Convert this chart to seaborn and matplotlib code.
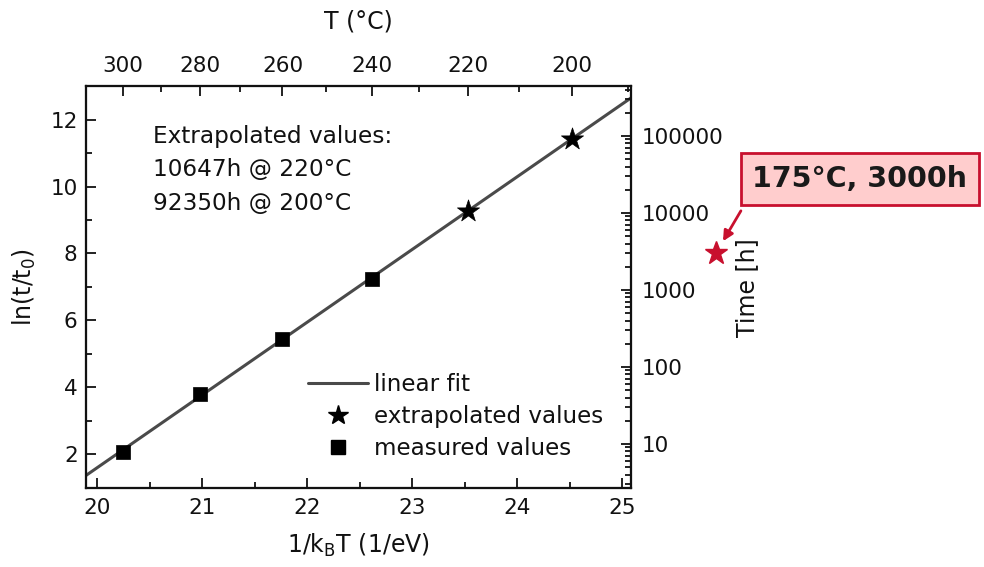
import numpy as np
import matplotlib
matplotlib.use("Agg")
import matplotlib.pyplot as plt
from matplotlib.ticker import FixedLocator, MultipleLocator, FuncFormatter, LogLocator, NullFormatter
from matplotlib.lines import Line2D
import seaborn as sns

# Boltzmann constant (eV/K)
KB = 8.617333e-5

# Measured lifetimes, ln(t / 1 h)
temps_measured = [300, 280, 260, 240]          # °C
ln_measured = [2.07, 3.79, 5.45, 7.24]

# Extrapolated lifetimes
temps_extrap = [220, 200]                      # °C
hours_extrap = [10647, 92350]                  # h

# Requirement point
temp_target = 175                              # °C
hours_target = 3000                            # h

# Top axis temperature ticks
top_major_T = [300, 280, 260, 240, 220, 200]
top_minor_T = [310, 290, 270, 250, 230, 210, 190]

# Right axis time ticks
time_ticks = [10, 100, 1000, 10000, 100000]


def inv_kt(t_c):
    return 1.0 / (KB * (np.asarray(t_c, dtype=float) + 273.15))


sns.set_theme(style="ticks")
plt.rcParams["font.family"] = ["DejaVu Sans"]
plt.rcParams["mathtext.default"] = "regular"
plt.rcParams["text.color"] = "#111111"
plt.rcParams["axes.labelcolor"] = "#111111"

FS = 15.5
LFS = 17
RED = "#C8102E"
GREY = "#4a4a4a"
INK = "#111111"

fig = plt.figure(figsize=(9.84, 5.67), dpi=100)
ax = fig.add_axes([0.0874, 0.139, 0.5539, 0.709])

xlim = (19.895, 25.086)
ylim = (0.98, 13.0)

x_meas = inv_kt(temps_measured)
x_ext = inv_kt(temps_extrap)
y_ext = np.log(hours_extrap)

# Arrhenius fit through the measured points
slope, intercept = np.polyfit(x_meas, ln_measured, 1)
fit_x = np.array(xlim)
fit_y = slope * fit_x + intercept

sns.lineplot(x=fit_x, y=fit_y, ax=ax, color=GREY, lw=2.2, legend=False)
sns.scatterplot(x=x_ext, y=y_ext, ax=ax, marker="*", s=280, color="black",
                edgecolor="black", linewidth=0.5, zorder=5, legend=False)
sns.scatterplot(x=x_meas, y=ln_measured, ax=ax, marker="s", s=115, color="black",
                edgecolor="black", linewidth=0.5, zorder=5, legend=False)

ax.set_xlim(*xlim)
ax.set_ylim(*ylim)

for s in ax.spines.values():
    s.set_linewidth(1.5)
    s.set_color(INK)
    s.set_visible(True)

ax.xaxis.set_major_locator(MultipleLocator(1))
ax.xaxis.set_minor_locator(MultipleLocator(0.5))
ax.yaxis.set_major_locator(MultipleLocator(2))
ax.yaxis.set_minor_locator(MultipleLocator(1))
ax.tick_params(which="both", direction="in", width=1.3, colors=INK,
               labelsize=FS, top=False, right=False)
ax.tick_params(which="major", length=7)
ax.tick_params(which="minor", length=4)
ax.tick_params(axis="x", pad=7)
ax.tick_params(axis="y", pad=6)

ax.set_xlabel("1/k$_B$T (1/eV)", fontsize=LFS, labelpad=10)
ax.set_ylabel("ln(t/t$_0$)", fontsize=LFS, labelpad=9)

# Top axis: temperature in °C
ax_top = ax.twiny()
ax_top.set_xlim(*xlim)
ax_top.xaxis.set_major_locator(FixedLocator(inv_kt(top_major_T)))
ax_top.xaxis.set_minor_locator(FixedLocator(inv_kt(top_minor_T)))
ax_top.set_xticklabels([str(t) for t in top_major_T])
ax_top.tick_params(which="both", direction="in", width=1.3, colors=INK,
                   labelsize=FS, pad=7)
ax_top.tick_params(which="major", length=7)
ax_top.tick_params(which="minor", length=4)
ax_top.set_xlabel("T (°C)", fontsize=LFS, labelpad=20)

# Right axis: lifetime in hours on a log scale equivalent to ln(t / 1 h)
ax_r = ax.twinx()
ax_r.set_yscale("log")
ax_r.set_ylim(np.exp(ylim[0]), np.exp(ylim[1]))
ax_r.yaxis.set_major_locator(FixedLocator(time_ticks))
ax_r.yaxis.set_major_formatter(FuncFormatter(lambda v, p: f"{int(round(v))}"))
ax_r.yaxis.set_minor_locator(LogLocator(base=10, subs=np.arange(2, 10), numticks=20))
ax_r.yaxis.set_minor_formatter(NullFormatter())
ax_r.tick_params(which="both", direction="in", width=1.3, colors=INK,
                 labelsize=FS, pad=8)
ax_r.tick_params(which="major", length=7)
ax_r.tick_params(which="minor", length=4)
ax_r.set_ylabel("Time [h]", fontsize=LFS, labelpad=8)

for a in (ax_top, ax_r):
    for s in a.spines.values():
        s.set_linewidth(1.5)
        s.set_color(INK)

# Extrapolated values text block
ax.text(0.123, 0.903, "Extrapolated values:\n10647h @ 220°C\n92350h @ 200°C",
        transform=ax.transAxes, fontsize=16.7, va="top", ha="left",
        linespacing=1.57, color=INK)

# Legend
handles = [
    Line2D([], [], color=GREY, lw=2.2),
    Line2D([], [], marker="*", ls="none", color="black", markersize=15),
    Line2D([], [], marker="s", ls="none", color="black", markersize=10),
]
labels = ["linear fit", "extrapolated values", "measured values"]
ax.legend(handles, labels, loc="lower left", bbox_to_anchor=(0.407, 0.07),
          frameon=False, fontsize=16.6, handlelength=2.6, handletextpad=0.25,
          labelspacing=0.4, borderpad=0, borderaxespad=0)

# 175 °C / 3000 h requirement, outside the plot area
x_t = inv_kt(temp_target)
y_t = np.log(hours_target)
ax.plot([x_t], [y_t], marker="*", ms=17, color=RED, mec=RED, ls="none",
        clip_on=False, zorder=6)
ax.annotate("", xy=(x_t, y_t), xytext=(18, 30.5), textcoords="offset points",
            arrowprops=dict(arrowstyle="-|>,head_length=0.5,head_width=0.25",
                            color=RED, lw=2, shrinkA=0, shrinkB=10),
            annotation_clip=False)
fig.text(860 / 984, 1 - 179 / 567, "175°C, 3000h", fontsize=20.5,
         fontweight="bold", color="#1a1a1a", ha="center", va="center",
         bbox=dict(boxstyle="square,pad=0.42", fc="#FFCDCD", ec=RED, lw=2))

fig.savefig("out.png", dpi=100)
